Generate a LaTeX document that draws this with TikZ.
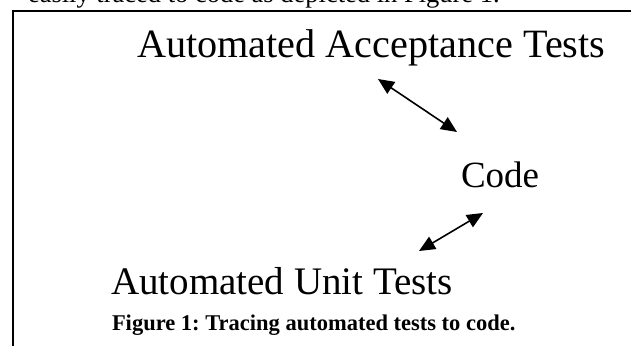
\documentclass[tikz,border=0pt]{standalone}
\usepackage{fontspec}
\setmainfont{Liberation Serif}
\usetikzlibrary{arrows.meta}
\frenchspacing
\tikzset{
  lbl/.style={anchor=base west, inner sep=0pt, outer sep=0pt},
  dbl/.style={line width=1.6pt, {Triangle[length=16pt,width=14pt]}-{Triangle[length=16pt,width=14pt]}},
  frame/.style={line width=2pt}
}
\begin{document}
\begin{tikzpicture}[x=1pt,y=-1pt]
\useasboundingbox (0,0) rectangle (631,345);
\clip (0,0) rectangle (631,345);
\node[lbl, font=\fontsize{26.5}{30}\selectfont] (prev) at (28,3) {easily traced to code as depicted in Figure 1.};
\draw[frame] (660,11) -- (13,11) -- (13,360);
\node[lbl, font=\fontsize{40.2}{44}\selectfont] (acc) at (137,57) {Automated Acceptance Tests};
\node[lbl, font=\fontsize{37}{42}\selectfont] (code) at (461,187) {Code};
\node[lbl, font=\fontsize{39}{44}\selectfont] (unit) at (111,294) {Automated Unit Tests};
\node[lbl, font=\bfseries\fontsize{22.5}{26}\selectfont] (cap) at (112,330) {Figure 1: Tracing automated tests to code.};
\coordinate (a1) at (378,79);
\coordinate (a2) at (457,132);
\coordinate (b1) at (483,213);
\coordinate (b2) at (419,251);
\draw[dbl] (a1) -- (a2);
\draw[dbl] (b1) -- (b2);
\end{tikzpicture}
\end{document}
